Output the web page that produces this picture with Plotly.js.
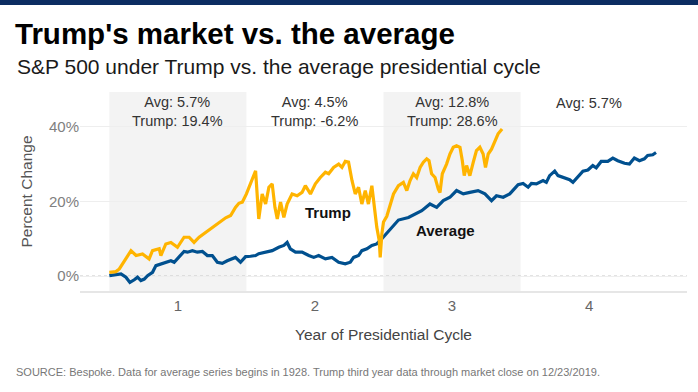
<!DOCTYPE html>
<html>
<head>
<meta charset="utf-8">
<script src="https://cdn.plot.ly/plotly-3.0.1.min.js"></script>
<style>
  html, body { margin: 0; padding: 0; background: #ffffff; }
  #chart { width: 698px; height: 392px; }
</style>
</head>
<body>
<div id="chart"></div>
<script>
// ---- Data ----
const trumpX = [0.5, 0.548, 0.573, 0.61, 0.658, 0.695, 0.742, 0.79, 0.815, 0.864, 0.876, 0.912, 0.949, 0.997,
  1.045, 1.082, 1.118, 1.155, 1.203, 1.251, 1.3, 1.349, 1.385, 1.42, 1.445, 1.47, 1.5, 1.53, 1.554, 1.567,
  1.59, 1.615, 1.64, 1.664, 1.688, 1.708, 1.725, 1.749, 1.773, 1.797, 1.833, 1.87, 1.906, 1.93, 1.967,
  2.003, 2.039, 2.076, 2.1, 2.136, 2.173, 2.197, 2.221, 2.245, 2.27, 2.294, 2.318, 2.342, 2.367, 2.39,
  2.415, 2.435, 2.451, 2.469, 2.476, 2.488, 2.5, 2.524, 2.545, 2.573, 2.609, 2.645, 2.67, 2.694, 2.718,
  2.742, 2.767, 2.791, 2.815, 2.832, 2.851, 2.876, 2.9, 2.912, 2.929, 2.96, 2.985, 3.009, 3.033, 3.058,
  3.075, 3.089, 3.106, 3.13, 3.155, 3.178, 3.203, 3.227, 3.244, 3.264, 3.288, 3.312, 3.336, 3.365];
const trumpY = [1.0, 1.2, 1.9, 4.1, 6.8, 5.5, 5.9, 4.6, 6.8, 7.3, 5.5, 8.6, 9.0, 7.7,
  10.4, 10.4, 9.0, 10.4, 11.7, 12.9, 14.4, 15.6, 16.2, 18.4, 19.5, 19.8, 22.0, 24.7, 26.8, 28.2,
  15.3, 22.0, 19.3, 23.8, 24.7, 18.4, 15.3, 19.8, 15.7, 19.3, 22.0, 21.5, 22.4, 24.2, 22.0,
  24.7, 26.4, 27.8, 27.4, 29.1, 30.0, 29.1, 30.7, 30.5, 25.6, 22.0, 23.8, 19.3, 22.9, 19.3,
  24.2, 17.5, 13.1, 9.5, 5.0, 11.3, 14.5, 16.0, 18.5, 22.0, 24.2, 25.1, 22.9, 25.6, 27.4,
  26.4, 29.1, 30.5, 31.4, 30.9, 27.4, 26.4, 23.3, 22.4, 27.4, 30.0, 32.7, 34.5, 34.9, 34.5,
  30.9, 26.9, 29.6, 26.9, 30.5, 33.6, 34.5, 32.7, 29.1, 32.7, 34.0, 36.3, 38.1, 39.4];

const avgX = [0.5, 0.548, 0.585, 0.621, 0.65, 0.682, 0.706, 0.73, 0.755, 0.779, 0.815, 0.84, 0.876, 0.912,
  0.949, 0.973, 1.009, 1.045, 1.07, 1.106, 1.142, 1.179, 1.215, 1.251, 1.288, 1.324, 1.36, 1.397, 1.42,
  1.457, 1.494, 1.53, 1.567, 1.59, 1.64, 1.688, 1.736, 1.773, 1.797, 1.82, 1.858, 1.906, 1.955, 1.991,
  2.027, 2.076, 2.124, 2.173, 2.221, 2.258, 2.282, 2.318, 2.342, 2.379, 2.415, 2.451, 2.488, 2.536,
  2.585, 2.609, 2.682, 2.73, 2.779, 2.839, 2.888, 2.936, 2.985, 3.033, 3.082, 3.13, 3.19, 3.24, 3.288,
  3.324, 3.373, 3.421, 3.457, 3.482, 3.518, 3.555, 3.579, 3.615, 3.664, 3.688, 3.712, 3.749, 3.773,
  3.821, 3.858, 3.882, 3.918, 3.955, 3.991, 4.027, 4.052, 4.088, 4.136, 4.173, 4.209, 4.258, 4.294,
  4.33, 4.367, 4.403, 4.427, 4.464, 4.488];
const avgY = [0.1, 0.3, 0.6, -0.3, -1.7, -1.0, -0.3, -1.2, -0.8, 0.1, 1.0, 2.8, 3.3, 3.7,
  4.1, 3.7, 5.0, 6.6, 6.4, 6.8, 6.4, 6.6, 5.5, 5.5, 3.7, 3.4, 4.1, 4.6, 5.0,
  3.7, 5.2, 5.3, 5.5, 6.0, 6.4, 6.8, 7.7, 8.2, 9.0, 7.3, 6.4, 6.4, 5.5, 5.0,
  5.5, 4.6, 5.0, 3.7, 3.3, 3.7, 5.0, 5.5, 6.8, 7.3, 8.2, 8.6, 10.0, 11.9,
  14.0, 15.0, 15.7, 16.6, 17.5, 19.3, 18.4, 20.2, 21.1, 22.9, 22.0, 22.4, 22.9, 22.0, 20.2,
  21.5, 21.1, 22.0, 23.3, 24.5, 24.8, 23.8, 24.8, 24.7, 25.6, 25.1, 26.9, 28.1, 26.9,
  26.4, 25.8, 25.1, 26.6, 28.1, 28.4, 29.6, 29.0, 30.7, 30.7, 31.6, 30.9, 30.2, 30.0,
  31.6, 30.9, 31.4, 32.3, 32.5, 33.1];

const yearTicks = [1, 2, 3, 4];
const yearTickLabels = ["1", "2", "3", "4"];
const pctTicks = [0, 20, 40];
const pctTickLabels = ["0%", "20%", "40%"];
const shadedYears = [1, 3];
const yearAvgText = ["Avg: 5.7%", "Avg: 4.5%", "Avg: 12.8%", "Avg: 5.7%"];
const yearTrumpText = ["Trump: 19.4%", "Trump: -6.2%", "Trump: 28.6%", null];

const titleText = "Trump's market vs. the average";
const subtitleText = "S&P 500 under Trump vs. the average presidential cycle";
const sourceText = "SOURCE: Bespoke. Data for average series begins in 1928. Trump third year data through market close on 12/23/2019.";

// ---- Styles ----
const FONT = "Liberation Sans, Arial, sans-serif";
const YELLOW = "#FFB400";
const BLUE = "#00508F";

const traces = [
  { x: avgX, y: avgY, type: "scatter", mode: "lines", name: "Average",
    line: { color: BLUE, width: 3.2 }, hoverinfo: "skip" },
  { x: trumpX, y: trumpY, type: "scatter", mode: "lines", name: "Trump",
    line: { color: YELLOW, width: 3.2 }, hoverinfo: "skip" }
];

const shapes = [];
shadedYears.forEach(yr => {
  shapes.push({ type: "rect", xref: "x", yref: "paper", x0: yr - 0.5, x1: yr + 0.5, y0: 0, y1: 1,
    fillcolor: "#f3f3f3", line: { width: 0 }, layer: "below" });
});
// zero reference dotted line
shapes.push({ type: "line", xref: "paper", yref: "y", x0: 0, x1: 1, y0: 0, y1: 0,
  line: { color: "#c8c8c8", width: 1.2, dash: "dot" }, layer: "below" });
// top navy banner
shapes.push({ type: "rect", xref: "paper", yref: "paper", x0: -0.2, x1: 1.2, y0: 1.437, y1: 1.6,
  fillcolor: "#0c2d62", line: { width: 0 }, layer: "above" });

const annotations = [];
yearTicks.forEach((yr, i) => {
  const txt = yearTrumpText[i] ? yearAvgText[i] + "<br>" + yearTrumpText[i] : yearAvgText[i];
  annotations.push({ xref: "x", yref: "paper", x: yr, y: yearTrumpText[i] ? 0.8995 : 0.945,
    xanchor: "center", yanchor: "middle", showarrow: false, text: txt, align: "center",
    font: { family: FONT, size: 14.5, color: "#333333" } });
});
annotations.push({ xref: "x", yref: "y", x: 2.098, y: 17.1, text: "<b>Trump</b>", showarrow: false,
  font: { family: FONT, size: 15, color: "#111111" } });
annotations.push({ xref: "x", yref: "y", x: 2.951, y: 12.2, text: "<b>Average</b>", showarrow: false,
  font: { family: FONT, size: 15, color: "#111111" } });
annotations.push({ xref: "paper", yref: "paper", x: -0.107, y: 1.126, xanchor: "left", yanchor: "middle",
  text: subtitleText, showarrow: false, font: { family: FONT, size: 21, color: "#1a1a1a" } });
annotations.push({ xref: "paper", yref: "paper", x: -0.1087, y: -0.4055, xanchor: "left", yanchor: "middle",
  text: sourceText, showarrow: false, font: { family: FONT, size: 11, color: "#777777" } });

const layout = {
  width: 698, height: 392,
  margin: { l: 80, r: 11, t: 92, b: 101, pad: 0 },
  paper_bgcolor: "#ffffff", plot_bgcolor: "#ffffff",
  showlegend: false,
  title: { text: "<b>" + titleText + "</b>", xref: "container", yref: "container",
    x: 0.0215, xanchor: "left", y: 0.914, yanchor: "middle",
    font: { family: FONT, size: 29.5, color: "#000000" } },
  xaxis: {
    range: [0.286, 4.714], tickmode: "array", tickvals: yearTicks, ticktext: yearTickLabels,
    showgrid: false, zeroline: false, showline: true, linecolor: "#e6e6e6", linewidth: 2,
    ticks: "", tickfont: { family: FONT, size: 15, color: "#666666" },
    title: { text: "Year of Presidential Cycle", standoff: 16,
      font: { family: FONT, size: 15.5, color: "#444444" } },
    automargin: false, fixedrange: true
  },
  yaxis: {
    range: [-4.0, 49.3], tickmode: "array", tickvals: pctTicks, ticktext: pctTickLabels,
    showgrid: true, gridcolor: "#eeeeee", gridwidth: 1, zeroline: false, showline: false,
    ticks: "", tickfont: { family: FONT, size: 15, color: "#808080" },
    title: { text: "Percent Change", standoff: 12,
      font: { family: FONT, size: 15.5, color: "#555555" } },
    automargin: false, fixedrange: true
  },
  shapes: shapes,
  annotations: annotations
};

Plotly.newPlot("chart", traces, layout, { staticPlot: true, displayModeBar: false });
</script>
</body>
</html>
